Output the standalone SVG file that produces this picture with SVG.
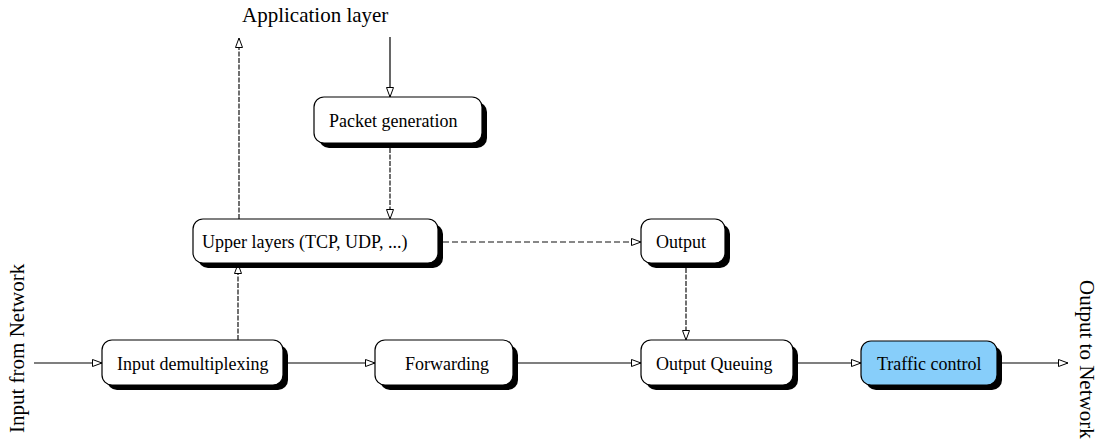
<svg xmlns="http://www.w3.org/2000/svg" width="1099" height="447" viewBox="0 0 1099 447">
<style>
.box{fill:#fff;stroke:#000;stroke-width:1.2}
.blue{fill:#87cefa}
.sh{fill:#000}
.t{font-family:"Liberation Serif","Times New Roman",serif;font-size:18px;fill:#000}
.lbl{font-family:"Liberation Serif","Times New Roman",serif;font-size:21px;fill:#000}
.c{fill:none;stroke:#000;stroke-width:1.2;marker-end:url(#ah)}
.d{stroke:#111;stroke-dasharray:5 1.5}
.dh{stroke:#111;stroke-dasharray:6 3}
</style>
<defs>
<marker id="ah" markerUnits="userSpaceOnUse" markerWidth="12" markerHeight="10" refX="10" refY="4" orient="auto">
<path d="M0.5,0.5 L10,4 L0.5,7.5 z" fill="#fff" stroke="#000" stroke-width="1"/>
</marker>
</defs>
<rect width="1099" height="447" fill="#fff"/>
<g id="connectors">
<path class="c" d="M34,363 H102"/>
<path class="c" d="M288,363 H375"/>
<path class="c" d="M518,363 H641"/>
<path class="c" d="M798,363 H861"/>
<path class="c" d="M1002,363 H1068"/>
<path class="c d" d="M238,340 V264"/>
<path class="c d" d="M239,219 V38"/>
<path class="c" d="M390,37 V97"/>
<path class="c d" d="M390,148 V219"/>
<path class="c dh" d="M443,242 H641"/>
<path class="c d" d="M686,268 V340"/>
</g>
<g id="packet-generation">
<rect class="sh" x="319" y="102" width="168" height="46" rx="10"/>
<rect class="box" x="314" y="97" width="168" height="46" rx="10"/>
<text class="t" x="329" y="127">Packet generation</text>
</g>
<g id="upper-layers">
<rect class="sh" x="198" y="224" width="245" height="44" rx="10"/>
<rect class="box" x="193" y="219" width="245" height="44" rx="10"/>
<text class="t" x="202" y="248">Upper layers (TCP, UDP, ...)</text>
</g>
<g id="output">
<rect class="sh" x="646" y="224" width="84" height="44" rx="10"/>
<rect class="box" x="641" y="219" width="84" height="44" rx="10"/>
<text class="t" x="656" y="248">Output</text>
</g>
<g id="input-demultiplexing">
<rect class="sh" x="107" y="345" width="181" height="45" rx="10"/>
<rect class="box" x="102" y="340" width="181" height="45" rx="10"/>
<text class="t" x="117" y="370">Input demultiplexing</text>
</g>
<g id="forwarding">
<rect class="sh" x="380" y="345" width="138" height="45" rx="10"/>
<rect class="box" x="375" y="340" width="138" height="45" rx="10"/>
<text class="t" x="405" y="370">Forwarding</text>
</g>
<g id="output-queuing">
<rect class="sh" x="646" y="345" width="152" height="45" rx="10"/>
<rect class="box" x="641" y="340" width="152" height="45" rx="10"/>
<text class="t" x="656" y="370">Output Queuing</text>
</g>
<g id="traffic-control">
<rect class="sh" x="866" y="346" width="136" height="44" rx="10"/>
<rect class="box blue" x="861" y="341" width="136" height="44" rx="10"/>
<text class="t" x="877" y="370">Traffic control</text>
</g>
<g id="labels">
<text class="lbl" x="242" y="22">Application layer</text>
<text class="lbl" transform="translate(24,433) rotate(-90)">Input from Network</text>
<text class="lbl" transform="translate(1080,280) rotate(90)">Output to Network</text>
</g>
</svg>
